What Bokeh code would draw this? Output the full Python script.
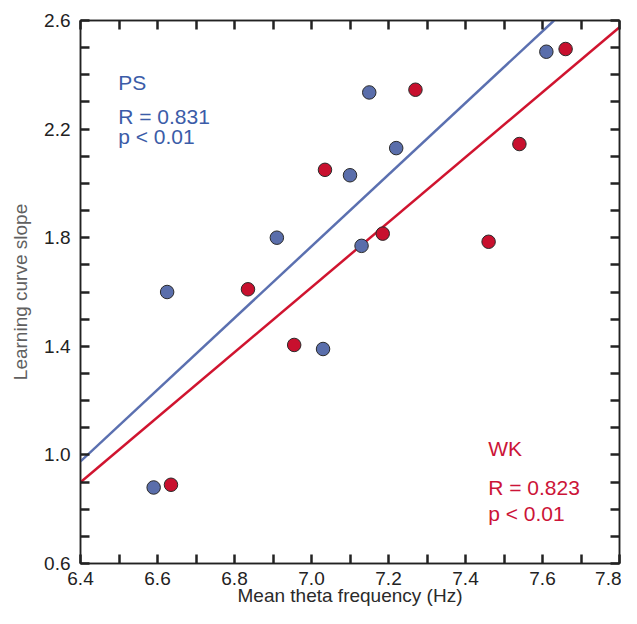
from bokeh.plotting import figure
from bokeh.models import Range1d, LinearAxis, FixedTicker, Label
from bokeh.embed import file_html
from bokeh.resources import INLINE

# ---- data ----
ps_x = [6.625, 6.91, 6.59, 7.03, 7.10, 7.15, 7.22, 7.13, 7.61]
ps_y = [1.60, 1.80, 0.88, 1.39, 2.03, 2.335, 2.13, 1.77, 2.485]
wk_x = [6.635, 6.835, 6.955, 7.035, 7.185, 7.27, 7.46, 7.54, 7.66]
wk_y = [0.89, 1.61, 1.405, 2.05, 1.815, 2.345, 1.785, 2.145, 2.495]

ps_fit_x = [6.4, 7.63]
ps_fit_y = [0.976, 2.6]
wk_fit_x = [6.4, 7.8]
wk_fit_y = [0.899, 2.575]

x_ticks = [6.4, 6.5, 6.6, 6.7, 6.8, 6.9, 7.0, 7.1, 7.2, 7.3, 7.4, 7.5, 7.6, 7.7, 7.8]
x_tick_labels = ["6.4", "", "6.6", "", "6.8", "", "7.0", "", "7.2", "", "7.4", "", "7.6", "", "7.8"]
y_ticks = [0.6, 0.7, 0.8, 0.9, 1.0, 1.1, 1.2, 1.3, 1.4, 1.5, 1.6, 1.7, 1.8, 1.9, 2.0,
           2.1, 2.2, 2.3, 2.4, 2.5, 2.6]
y_tick_labels = ["0.6", "", "", "", "1.0", "", "", "", "1.4", "", "", "", "1.8", "", "",
                 "", "2.2", "", "", "", "2.6"]

ps_label = ["PS", "R = 0.831", "p < 0.01"]
wk_label = ["WK", "R = 0.823", "p < 0.01"]

BLUE_PT = "#5a6eab"
RED_PT = "#c8102e"
BLUE_LN = "#5b70b0"
RED_LN = "#d0142f"
BLUE_TX = "#3b5ca8"
RED_TX = "#cc1438"
FONT = "Liberation Sans"
AX = "#222222"

p = figure(width=621, height=608, output_backend="svg", toolbar_location=None,
           x_range=Range1d(6.4, 7.8), y_range=Range1d(0.6, 2.6),
           min_border_left=80, min_border_right=2, min_border_top=20, min_border_bottom=45,
           x_axis_label="Mean theta frequency (Hz)", y_axis_label="Learning curve slope")
p.grid.visible = False
p.outline_line_color = AX
p.outline_line_width = 1.5
p.background_fill_color = "white"
p.border_fill_color = "white"


def style_axis(ax, ticks, labels, show_labels=True):
    ax.ticker = FixedTicker(ticks=ticks)
    ax.minor_tick_line_color = None
    ax.major_tick_in = 9
    ax.major_tick_out = 0
    ax.major_tick_line_width = 2.5
    ax.major_tick_line_color = AX
    ax.axis_line_color = AX
    ax.axis_line_width = 1.5
    if show_labels:
        ax.major_label_overrides = dict(zip(ticks, labels))
        ax.major_label_text_font = FONT
        ax.major_label_text_font_size = "19px"
        ax.major_label_text_color = "#222222"
    else:
        ax.major_label_overrides = {t: "" for t in ticks}
        ax.major_label_text_font_size = "0px"
        ax.major_label_standoff = 0


xa = p.xaxis[0]
ya = p.yaxis[0]
style_axis(xa, x_ticks, x_tick_labels)
style_axis(ya, y_ticks, y_tick_labels)
xa.major_label_standoff = 8
ya.major_label_standoff = 10
xa.axis_label_text_font = FONT
xa.axis_label_text_font_size = "19px"
xa.axis_label_text_font_style = "normal"
xa.axis_label_text_color = "#2a2a2a"
xa.axis_label_standoff = -3
ya.axis_label_text_font = FONT
ya.axis_label_text_font_size = "19px"
ya.axis_label_text_font_style = "normal"
ya.axis_label_text_color = "#606060"
ya.axis_label_standoff = 10

top = LinearAxis()
style_axis(top, x_ticks, x_tick_labels, show_labels=False)
p.add_layout(top, "above")
right = LinearAxis()
style_axis(right, y_ticks, y_tick_labels, show_labels=False)
p.add_layout(right, "right")

# regression lines
p.line(ps_fit_x, ps_fit_y, line_color=BLUE_LN, line_width=2.5)
p.line(wk_fit_x, wk_fit_y, line_color=RED_LN, line_width=2.5)

# points
p.scatter(ps_x, ps_y, size=13.5, fill_color=BLUE_PT, line_color="#2a2a2a", line_width=1)
p.scatter(wk_x, wk_y, size=13.5, fill_color=RED_PT, line_color="#2a2a2a", line_width=1)

# annotations
for txt, yy in zip(ps_label, [2.370, 2.245, 2.172]):
    p.add_layout(Label(x=6.498, y=yy, text=txt, text_font=FONT, text_font_size="21px",
                       text_color=BLUE_TX, text_baseline="alphabetic", text_align="left"))
for txt, yy in zip(wk_label, [1.022, 0.881, 0.786]):
    p.add_layout(Label(x=7.459, y=yy, text=txt, text_font=FONT, text_font_size="21px",
                       text_color=RED_TX, text_baseline="alphabetic", text_align="left"))

open("out.html", "w").write(file_html(p, INLINE))
